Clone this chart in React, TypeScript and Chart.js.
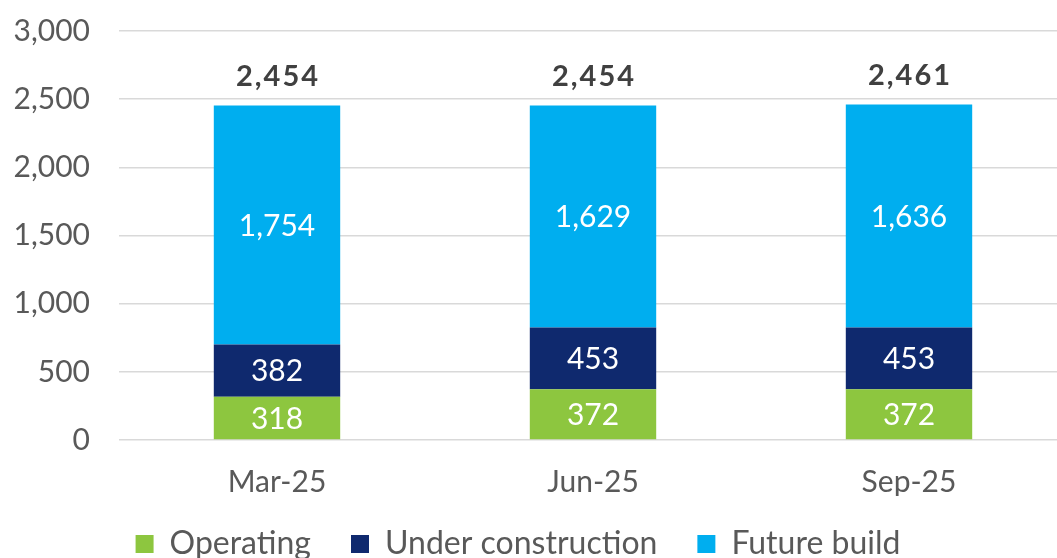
import React, { useEffect, useRef } from "react";
import { Chart, registerables } from "chart.js";

Chart.register(...registerables);

const categories = ["Mar-25", "Jun-25", "Sep-25"];
const operating = [318, 372, 372];
const underConstruction = [382, 453, 453];
const futureBuild = [1754, 1629, 1636];
const totals = [2454, 2454, 2461];
const seriesNames = ["Operating", "Under construction", "Future build"];
const seriesColors = ["#8DC63F", "#0F296E", "#00AEEF"];

const FONT = "Lato, 'Open Sans', sans-serif";
const fmt = (v: number) => v.toLocaleString("en-US");

const labelPlugin = {
  id: "barLabels",
  afterLayout(chart: any) {
    if (chart.legend) {
      chart.legend.top -= 8;
      chart.legend.bottom -= 8;
    }
  },
  afterDatasetsDraw(chart: any) {
    const ctx = chart.ctx;
    ctx.save();
    ctx.textAlign = "center";
    ctx.textBaseline = "middle";
    ctx.font = `400 30px ${FONT}`;
    ctx.fillStyle = "#ffffff";
    chart.data.datasets.forEach((ds: any, di: number) => {
      const meta = chart.getDatasetMeta(di);
      meta.data.forEach((el: any, i: number) => {
        const { x, y, base } = el.getProps(["x", "y", "base"], true);
        ctx.fillText(fmt(ds.data[i]), x, (y + base) / 2 + 1);
      });
    });
    const lastMeta = chart.getDatasetMeta(chart.data.datasets.length - 1);
    ctx.font = `700 29px ${FONT}`;
    try {
      (ctx as any).letterSpacing = "2px";
    } catch (e) {}
    ctx.fillStyle = "#404040";
    const yScale = chart.scales.y;
    lastMeta.data.forEach((el: any, i: number) => {
      const { x } = el.getProps(["x"], true);
      ctx.fillText(fmt(totals[i]), x + 1, yScale.getPixelForValue(totals[i]) - 29);
    });
    ctx.restore();
  },
};

export default function App() {
  const ref = useRef<HTMLCanvasElement>(null);
  useEffect(() => {
    if (!ref.current) return;
    const chart = new Chart(ref.current, {
      type: "bar",
      data: {
        labels: categories,
        datasets: [
          { label: seriesNames[0], data: operating, backgroundColor: seriesColors[0] },
          { label: seriesNames[1], data: underConstruction, backgroundColor: seriesColors[1] },
          { label: seriesNames[2], data: futureBuild, backgroundColor: seriesColors[2] },
        ],
      },
      options: {
        animation: false,
        responsive: false,
        maintainAspectRatio: false,
        layout: { padding: { top: 31, left: 0, right: 0, bottom: 0 } },
        datasets: { bar: { barPercentage: 1, categoryPercentage: 0.4 } },
        scales: {
          x: {
            stacked: true,
            grid: { display: false },
            border: { display: false },
            ticks: { color: "#595959", font: { family: FONT, size: 30 }, padding: 16 },
            afterFit: (s: any) => {
              s.height = 56;
            },
          },
          y: {
            stacked: true,
            min: 0,
            max: 3000,
            grid: {
              color: "#d9d9d9",
              lineWidth: 1.5,
              drawTicks: true,
              tickLength: 29,
              tickColor: "rgba(0,0,0,0)",
            },
            border: { display: false },
            ticks: {
              stepSize: 500,
              color: "#595959",
              font: { family: FONT, size: 30 },
              padding: 0,
              callback: (v: any) => fmt(Number(v)),
            },
            afterFit: (s: any) => {
              s.width = 150;
            },
          },
        },
        plugins: {
          legend: {
            position: "bottom",
            labels: {
              boxWidth: 18,
              boxHeight: 18,
              padding: 40,
              color: "#595959",
              font: { family: FONT, size: 32 },
            },
          },
          tooltip: { enabled: false },
        },
      },
      plugins: [labelPlugin],
    });
    return () => chart.destroy();
  }, []);
  return (
    <div
      style={{
        position: "fixed",
        left: 0,
        top: 0,
        width: 1057,
        height: 558,
        overflow: "hidden",
        background: "#fff",
      }}
    >
      <canvas
        ref={ref}
        width={1098}
        height={578}
        style={{ position: "absolute", left: -31, top: 0, width: 1098, height: 578 }}
      />
    </div>
  );
}
